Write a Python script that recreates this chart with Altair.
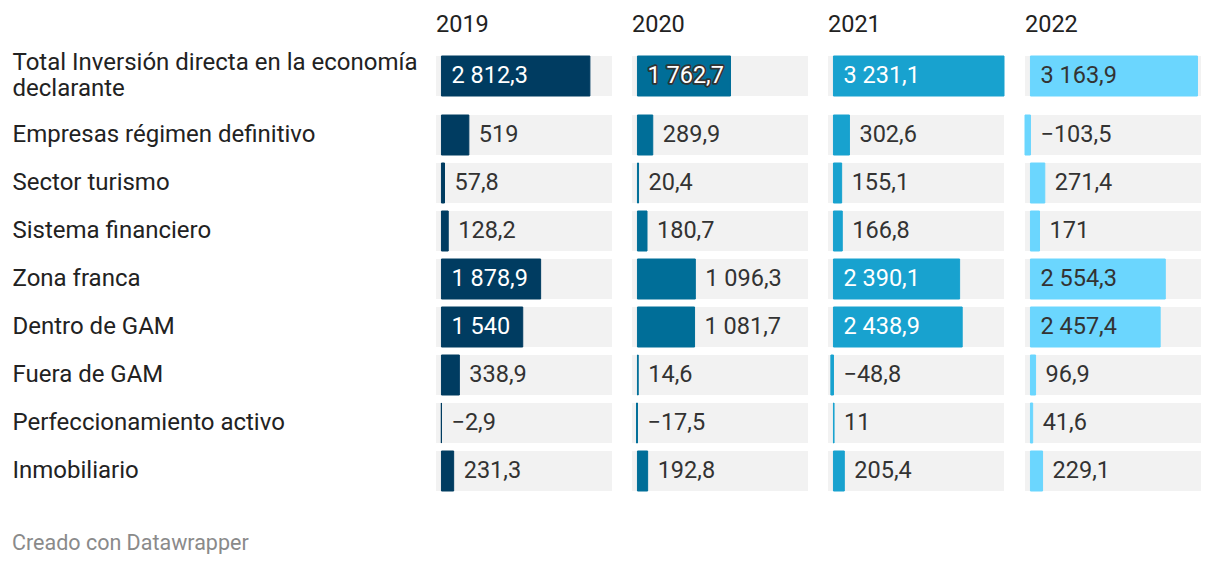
import altair as alt
import pandas as pd

YEARS = ["2019", "2020", "2021", "2022"]
ROWS = [
    "Total Inversión directa en la economía\ndeclarante",
    "Empresas régimen definitivo",
    "Sector turismo",
    "Sistema financiero",
    "Zona franca",
    "Dentro de GAM",
    "Fuera de GAM",
    "Perfeccionamiento activo",
    "Inmobiliario",
]
V2019 = [2812.3, 519, 57.8, 128.2, 1878.9, 1540, 338.9, -2.9, 231.3]
V2020 = [1762.7, 289.9, 20.4, 180.7, 1096.3, 1081.7, 14.6, -17.5, 192.8]
V2021 = [3231.1, 302.6, 155.1, 166.8, 2390.1, 2438.9, -48.8, 11, 205.4]
V2022 = [3163.9, -103.5, 271.4, 171, 2554.3, 2457.4, 96.9, 41.6, 229.1]
VALUES = {"2019": V2019, "2020": V2020, "2021": V2021, "2022": V2022}

BAR_COLORS = {"2019": "#003c61", "2020": "#006e98", "2021": "#18a2cf", "2022": "#6bd6fe"}
INSIDE_TEXT = {"2019": "#ffffff", "2020": "#ffffff", "2021": "#ffffff", "2022": "#333333"}
OUTLINED = {"2020"}
INSIDE_MIN = 1500


def fmt(v):
    s = f"{abs(v):,.1f}"
    if s.endswith(".0"):
        s = s[:-2]
    s = s.replace(",", " ").replace(".", ",")
    return ("\u2212" if v < 0 else "") + s


records = []
for y in YEARS:
    for r, v in zip(ROWS, VALUES[y]):
        records.append({"year": y, "row": r, "value": v, "label": fmt(v)})
df = pd.DataFrame(records)

XMIN = float(df["value"].min())
XMAX = float(df["value"].max())
xscale = alt.Scale(domain=[XMIN, XMAX], nice=False, zero=False)

FONT = "Roboto"
W = 176
LABEL_EXTENT = 428
LABEL_SIZE = 24
VALUE_SIZE = 23.5


def column(year, rows, height, pad_inner, pad_outer, label_offset, show_title, with_axis):
    d = df[(df["year"] == year) & (df["row"].isin(rows))]
    if with_axis:
        yaxis = alt.Axis(
            labelAlign="left", labelPadding=LABEL_EXTENT - 4,
            minExtent=LABEL_EXTENT, maxExtent=LABEL_EXTENT, labelLimit=424,
            labelFontSize=LABEL_SIZE, labelColor="#222222", domain=False, ticks=False,
            grid=False, labelExpr="split(datum.label, '\\n')",
            labelLineHeight=26, labelBaseline="middle", labelFont=FONT,
            labelOffset=label_offset,
        )
    else:
        yaxis = None
    y = alt.Y("row:N", sort=rows, title=None, axis=yaxis,
              scale=alt.Scale(paddingInner=pad_inner, paddingOuter=pad_outer))
    base = alt.Chart(d)
    bg = base.mark_bar(color="#f2f2f2").encode(
        y=y,
        x=alt.XDatum(XMIN, type="quantitative", scale=xscale, axis=None),
        x2=alt.X2Datum(XMAX),
    )
    bars = base.mark_bar(
        color=BAR_COLORS[year], stroke=BAR_COLORS[year], strokeWidth=1,
    ).encode(
        y=y,
        x=alt.X("value:Q", scale=xscale, axis=None),
        x2=alt.X2Datum(0),
    )
    tb = base.transform_calculate(
        inside=f"datum.value > {INSIDE_MIN}",
        pos=f"datum.value > {INSIDE_MIN} ? 0 : max(datum.value, 0)",
    )
    layers = [bg, bars]
    if year in OUTLINED:
        outline = tb.transform_filter("datum.inside").mark_text(
            align="left", baseline="middle", dx=10, fontSize=VALUE_SIZE, font=FONT,
            stroke="#333333", strokeWidth=3.5, strokeJoin="round", fill="#333333",
        ).encode(y=y, x=alt.X("pos:Q", scale=xscale, axis=None), text="label:N")
        layers.append(outline)
    text = tb.mark_text(
        align="left", baseline="middle", dx=10, fontSize=VALUE_SIZE, font=FONT,
    ).encode(
        y=y,
        x=alt.X("pos:Q", scale=xscale, axis=None),
        text="label:N",
        color=alt.condition("datum.inside", alt.value(INSIDE_TEXT[year]), alt.value("#333333")),
    )
    layers.append(text)
    props = dict(width=W, height=height)
    if show_title:
        props["title"] = alt.TitleParams(
            year, anchor="start", frame="group", fontSize=VALUE_SIZE, fontWeight="normal",
            color="#222222", font=FONT, baseline="top", offset=14,
        )
    return alt.layer(*layers).properties(**props)


top_rows = ROWS[:1]
bottom_rows = ROWS[1:]
top = alt.hconcat(
    *[column(y, top_rows, 52, 0, 0.15, -13, True, i == 0) for i, y in enumerate(YEARS)],
    spacing=20,
)
bottom = alt.hconcat(
    *[column(y, bottom_rows, 376, 8 / 48, 0, 0, False, i == 0) for i, y in enumerate(YEARS)],
    spacing=20,
)

chart = alt.vconcat(top, bottom, spacing=12).properties(
    padding={"top": 4, "left": 0, "right": 0, "bottom": 0},
    title=alt.TitleParams(
        "Creado con Datawrapper", orient="bottom", anchor="start", fontSize=21.5,
        fontWeight="normal", color="#8a8a8a", font=FONT, offset=41, dx=4,
    ),
).configure(font=FONT).configure_view(stroke=None)

chart.save("out.html", embed_options={"renderer": "svg", "actions": False})
